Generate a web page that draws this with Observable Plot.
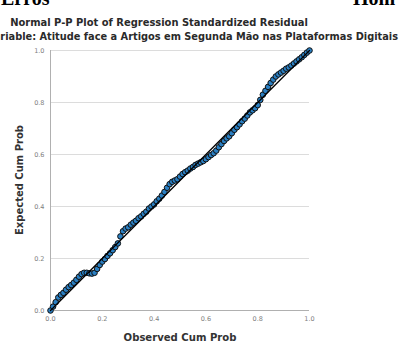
<!DOCTYPE html>
<html>
<head>
<meta charset="utf-8">
<script src="https://cdn.jsdelivr.net/npm/d3@7"></script>
<script src="https://cdn.jsdelivr.net/npm/@observablehq/plot@0.6"></script>
<style>
  html, body { margin: 0; padding: 0; background: #fff; }
  #wrap { position: relative; width: 399px; height: 342px; overflow: hidden; background: #fff; }
  #chart { position: absolute; left: 0; top: 0; }
  #ov { position: absolute; left: 0; top: 0; pointer-events: none; }
</style>
</head>
<body>
<div id="wrap">
  <div id="chart"></div>
  <svg id="ov" width="399" height="342"></svg>
</div>
<script>
// ---- Data ----
const titleText = "Normal P-P Plot of Regression Standardized Residual";
const subtitleText = "Dependent Variable: Atitude face a Artigos em Segunda Mão nas Plataformas Digitais";
const subtitleVisible = "riable: Atitude face a Artigos em Segunda Mão nas Plataformas Digitais";
const xTitle = "Observed Cum Prob";
const yTitle = "Expected Cum Prob";
const headerLeft = "Erros";
const headerRight = "Hom";

const xTicks = [0, 0.2, 0.4, 0.6, 0.8, 1.0];
const yTicks = [0, 0.2, 0.4, 0.6, 0.8, 1.0];

const observed = [0.00,0.01,0.02,0.03,0.04,0.05,0.06,0.07,0.08,0.09,
  0.10,0.11,0.12,0.13,0.14,0.15,0.16,0.17,0.18,0.19,
  0.20,0.21,0.22,0.23,0.24,0.25,0.26,0.27,0.28,0.29,
  0.30,0.31,0.32,0.33,0.34,0.35,0.36,0.37,0.38,0.39,
  0.40,0.41,0.42,0.43,0.44,0.45,0.46,0.47,0.48,0.49,
  0.50,0.51,0.52,0.53,0.54,0.55,0.56,0.57,0.58,0.59,
  0.60,0.61,0.62,0.63,0.64,0.65,0.66,0.67,0.68,0.69,
  0.70,0.71,0.72,0.73,0.74,0.75,0.76,0.77,0.78,0.79,
  0.80,0.81,0.82,0.83,0.84,0.85,0.86,0.87,0.88,0.89,
  0.90,0.91,0.92,0.93,0.94,0.95,0.96,0.97,0.98,0.99,1.00];
const expected = [0.000,0.015,0.032,0.050,0.060,0.068,0.080,0.090,0.098,0.107,
  0.118,0.130,0.140,0.145,0.145,0.143,0.142,0.145,0.160,0.175,
  0.188,0.198,0.210,0.220,0.232,0.244,0.258,0.285,0.305,0.315,
  0.320,0.330,0.338,0.345,0.355,0.362,0.372,0.380,0.392,0.400,
  0.408,0.420,0.430,0.442,0.456,0.472,0.486,0.495,0.500,0.505,
  0.515,0.525,0.532,0.538,0.546,0.552,0.560,0.565,0.570,0.575,
  0.582,0.590,0.598,0.605,0.615,0.628,0.640,0.652,0.662,0.670,
  0.682,0.695,0.705,0.716,0.728,0.738,0.750,0.762,0.770,0.778,
  0.790,0.810,0.830,0.845,0.860,0.875,0.888,0.900,0.908,0.915,
  0.922,0.930,0.935,0.942,0.950,0.958,0.966,0.974,0.983,0.992,1.000];

const refX = [0, 1];
const refY = [0, 1];

const points = observed.map((o, i) => ({obs: o, exp: expected[i]}));
const refLine = refX.map((v, i) => ({x: v, y: refY[i]}));

// ---- Chart ----
const chart = Plot.plot({
  width: 399,
  height: 342,
  marginLeft: 50,
  marginRight: 90,
  marginTop: 50,
  marginBottom: 32,
  x: {domain: [0, 1], label: null},
  y: {domain: [0, 1], label: null},
  style: {fontFamily: "DejaVu Sans", fontSize: "6.5px", color: "#777", background: "transparent"},
  marks: [
    Plot.gridY(yTicks, {stroke: "#dcdcdc", strokeOpacity: 1, strokeWidth: 1}),
    Plot.axisX(xTicks, {tickSize: 0, tickPadding: 6, tickFormat: d3.format(".1f"), fill: "#808080", label: null}),
    Plot.axisY(yTicks, {tickSize: 0, tickPadding: 6, tickFormat: d3.format(".1f"), fill: "#808080", label: null}),
    Plot.ruleX([0], {stroke: "#b0b0b0", strokeWidth: 1}),
    Plot.ruleY([0], {stroke: "#b0b0b0", strokeWidth: 1}),
    Plot.dot(points, {x: "obs", y: "exp", r: 2.8, fill: "#2a7fc2", stroke: "#101010", strokeWidth: 1}),
    Plot.line(refLine, {x: "x", y: "y", stroke: "#000", strokeWidth: 1.3})
  ]
});
document.getElementById("chart").appendChild(chart);

// ---- Text overlays ----
const ctx = document.createElement("canvas").getContext("2d");
function fitSize(text, weight, family, target) {
  ctx.font = `${weight} 10px ${family}`;
  const w = ctx.measureText(text).width;
  return 10 * target / w;
}
const sans = '"DejaVu Sans"';
const ov = d3.select("#ov");

ov.append("text").attr("x", 1).attr("y", 5)
  .attr("font-family", '"Liberation Serif", serif').attr("font-weight", "bold")
  .attr("font-size", 20).attr("fill", "#000").text(headerLeft);
ov.append("text").attr("x", 353).attr("y", 5)
  .attr("font-family", '"Liberation Serif", serif').attr("font-weight", "bold")
  .attr("font-size", 20).attr("fill", "#000").text(headerRight);

const tSize = fitSize(titleText, "bold", sans, 298);
ov.append("text").attr("x", 159).attr("y", 25.5).attr("text-anchor", "middle")
  .attr("font-family", sans).attr("font-weight", "bold").attr("font-size", tSize)
  .attr("fill", "#2a2a2a").text(titleText);

const sSize = fitSize(subtitleVisible, "bold", sans, 398);
ov.append("text").attr("x", 398).attr("y", 40).attr("text-anchor", "end")
  .attr("font-family", sans).attr("font-weight", "bold").attr("font-size", sSize)
  .attr("fill", "#2a2a2a").text(subtitleText);

const aSize = fitSize(xTitle, "bold", sans, 113);
ov.append("text").attr("x", 180).attr("y", 341).attr("text-anchor", "middle")
  .attr("font-family", sans).attr("font-weight", "bold").attr("font-size", aSize)
  .attr("fill", "#333").text(xTitle);
ov.append("text").attr("transform", "translate(22.5,180) rotate(-90)").attr("text-anchor", "middle")
  .attr("font-family", sans).attr("font-weight", "bold").attr("font-size", fitSize(yTitle, "bold", sans, 110))
  .attr("fill", "#333").text(yTitle);
</script>
</body>
</html>
